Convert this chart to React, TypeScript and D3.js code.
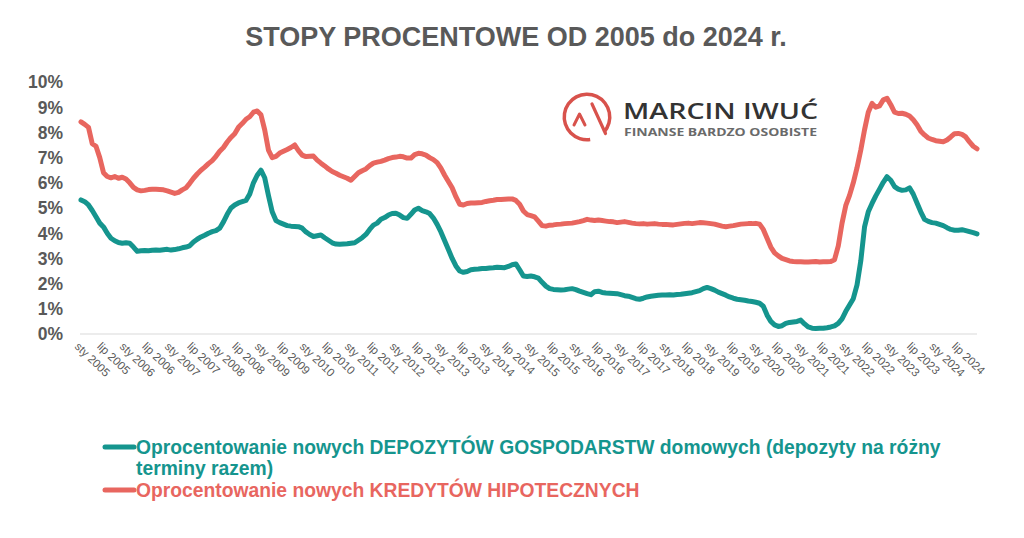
import React from "react";
import * as d3 from "d3";

const MONTHS = ["sty", "lut", "mar", "kwi", "maj", "cze", "lip", "sie", "wrz", "paź", "lis", "gru"];
const YEARS = [2005, 2006, 2007, 2008, 2009, 2010, 2011, 2012, 2013, 2014, 2015, 2016, 2017, 2018, 2019, 2020, 2021, 2022, 2023, 2024];
const Y_TICKS = [0, 1, 2, 3, 4, 5, 6, 7, 8, 9, 10];

// Oprocentowanie nowych KREDYTÓW HIPOTECZNYCH (%), monthly 2005-2024
const KREDYTY = [
  8.42, 8.32, 8.2, 7.55, 7.45, 7.0, 6.4, 6.25, 6.2, 6.25, 6.18, 6.22,
  6.15, 6.0, 5.82, 5.72, 5.68, 5.7, 5.73, 5.74, 5.74, 5.73, 5.72, 5.68,
  5.63, 5.58, 5.62, 5.72, 5.8, 5.98, 6.18, 6.35, 6.5, 6.62, 6.76, 6.88,
  7.05, 7.25, 7.4, 7.62, 7.8, 7.95, 8.2, 8.35, 8.52, 8.62, 8.8, 8.85,
  8.7, 8.1, 7.3, 7.0, 7.05, 7.18, 7.25, 7.32, 7.4, 7.5, 7.28, 7.1,
  7.04, 7.05, 7.06, 6.9, 6.78, 6.67, 6.55, 6.45, 6.38, 6.3, 6.24, 6.18,
  6.1, 6.25, 6.4, 6.48, 6.55, 6.68, 6.78, 6.82, 6.85, 6.9, 6.96, 7.0,
  7.02, 7.05, 7.03, 6.98, 6.98, 7.12, 7.17, 7.15, 7.1, 7.0, 6.92, 6.8,
  6.58, 6.3, 6.05, 5.8, 5.45, 5.15, 5.12, 5.18, 5.2, 5.2, 5.21, 5.22,
  5.26, 5.29, 5.31, 5.34, 5.34, 5.35, 5.36, 5.36, 5.3, 5.15, 4.88, 4.74,
  4.7, 4.65, 4.48, 4.3, 4.28, 4.32, 4.33, 4.35, 4.36, 4.38, 4.39, 4.4,
  4.43, 4.46, 4.5, 4.55, 4.52, 4.5, 4.52, 4.5, 4.48, 4.46, 4.45, 4.42,
  4.44, 4.46, 4.43, 4.4, 4.38, 4.37, 4.38, 4.36, 4.37, 4.38, 4.36, 4.35,
  4.35, 4.34, 4.33, 4.35, 4.37, 4.39, 4.4, 4.38, 4.4, 4.42, 4.41, 4.4,
  4.38, 4.36, 4.32, 4.28, 4.26, 4.28, 4.3, 4.33, 4.36, 4.37, 4.38, 4.38,
  4.39, 4.36, 4.15, 3.8, 3.45, 3.22, 3.1, 3.0, 2.95, 2.9, 2.88, 2.87,
  2.87, 2.86, 2.86, 2.87, 2.88, 2.86, 2.87, 2.87, 2.88, 2.95, 3.5, 4.4,
  5.1, 5.5, 6.0, 6.6, 7.3, 8.1, 8.8, 9.15, 9.0, 9.05, 9.29, 9.35,
  9.1, 8.8, 8.75, 8.76, 8.72, 8.65, 8.5, 8.3, 8.05, 7.9, 7.78, 7.72,
  7.67, 7.65, 7.63, 7.7, 7.82, 7.95, 7.96, 7.92, 7.82, 7.62, 7.45, 7.35,
];

// Oprocentowanie nowych DEPOZYTÓW GOSPODARSTW domowych (%), monthly 2005-2024
const DEPOZYTY = [
  5.32, 5.25, 5.12, 4.9, 4.65, 4.4, 4.25, 4.0, 3.8, 3.7, 3.63, 3.6,
  3.62, 3.6, 3.45, 3.28, 3.3, 3.31, 3.3, 3.32, 3.33, 3.32, 3.34, 3.36,
  3.33, 3.35, 3.38, 3.42, 3.45, 3.5, 3.65, 3.76, 3.85, 3.92, 4.0, 4.06,
  4.1, 4.2, 4.45, 4.75, 5.0, 5.12, 5.2, 5.25, 5.3, 5.55, 6.0, 6.3,
  6.5, 6.2, 5.5, 4.85, 4.5, 4.42, 4.36, 4.3, 4.28, 4.27, 4.26, 4.2,
  4.05, 3.95, 3.87, 3.9, 3.93, 3.82, 3.72, 3.62, 3.57, 3.56, 3.57, 3.58,
  3.6, 3.62, 3.72, 3.82, 3.95, 4.15, 4.32, 4.4, 4.55, 4.62, 4.72, 4.78,
  4.79, 4.72, 4.62, 4.59, 4.75, 4.92, 4.99, 4.9, 4.85, 4.78, 4.6, 4.35,
  4.05, 3.7, 3.35, 3.0, 2.7, 2.5, 2.45, 2.48, 2.55, 2.57, 2.58, 2.6,
  2.6, 2.62, 2.63, 2.65, 2.64, 2.63, 2.68, 2.75, 2.78, 2.55, 2.3, 2.28,
  2.3, 2.27, 2.22, 2.05, 1.9, 1.8, 1.77, 1.76, 1.75, 1.76, 1.78, 1.8,
  1.76, 1.7, 1.65, 1.6, 1.56, 1.68, 1.7, 1.65, 1.63, 1.62, 1.61, 1.6,
  1.56, 1.52, 1.5, 1.45, 1.4, 1.38, 1.42, 1.47, 1.5, 1.52, 1.54, 1.55,
  1.55, 1.56, 1.55, 1.57, 1.58, 1.6, 1.62, 1.64, 1.68, 1.72, 1.8, 1.85,
  1.8, 1.74, 1.66, 1.6, 1.54, 1.47, 1.42, 1.38, 1.36, 1.34, 1.31, 1.29,
  1.26, 1.22, 1.1, 0.75, 0.5, 0.36, 0.3, 0.33, 0.42, 0.46, 0.48, 0.5,
  0.55, 0.4, 0.28, 0.23, 0.22, 0.23, 0.23, 0.25, 0.28, 0.32, 0.42, 0.6,
  0.9, 1.15, 1.4, 1.95, 2.9, 4.25, 4.85, 5.18, 5.48, 5.75, 6.02, 6.24,
  6.1, 5.85, 5.75, 5.7, 5.72, 5.8, 5.55, 5.2, 4.85, 4.55, 4.47, 4.42,
  4.4, 4.35, 4.3, 4.22, 4.15, 4.12, 4.12, 4.14, 4.1, 4.06, 4.02, 3.97,
];

const CATEGORIES = YEARS.flatMap((y) => MONTHS.map((m) => `${m} ${y}`));
const TICK_LABELS = CATEGORIES.filter((c) => c.startsWith("sty") || c.startsWith("lip"));

const TITLE = "STOPY PROCENTOWE OD 2005 do 2024 r.";
const LEGEND_DEP_1 = "Oprocentowanie nowych DEPOZYTÓW GOSPODARSTW domowych (depozyty na różny";
const LEGEND_DEP_2 = "terminy razem)";
const LEGEND_KRED = "Oprocentowanie nowych KREDYTÓW HIPOTECZNYCH";

const TEAL = "#15958e";
const RED = "#e8665f";
const GRAY = "#595959";
const FONT = "'Liberation Sans', Arial, sans-serif";

export default function App() {
  const W = 1024;
  const H = 538;
  const x = d3.scalePoint<string>().domain(CATEGORIES).range([81, 977]);
  const y = d3.scaleLinear().domain([0, 10]).range([334, 82]);

  const line = d3
    .line<number>()
    .x((_, i) => x(CATEGORIES[i]) as number)
    .y((d) => y(d));

  const logoArc = d3.arc()({
    innerRadius: 21,
    outerRadius: 24.5,
    startAngle: (172 * Math.PI) / 180,
    endAngle: ((132 + 360) * Math.PI) / 180,
  } as any) as string;

  return (
    <svg
      width={W}
      height={H}
      style={{ position: "absolute", left: 0, top: 0, display: "block", background: "#fff" }}
      fontFamily={FONT}
    >
      <rect x={0} y={0} width={W} height={H} fill="#fff" />
      <text x={516} y={46} textAnchor="middle" fontSize={27} fontWeight="bold" fill={GRAY}>
        {TITLE}
      </text>

      {/* y axis labels */}
      {Y_TICKS.map((t) => (
        <text
          key={t}
          x={63}
          y={y(t)}
          dy="0.36em"
          textAnchor="end"
          fontSize={17.5}
          fontWeight="bold"
          fill={GRAY}
        >
          {`${t}%`}
        </text>
      ))}

      {/* x axis line */}
      <line x1={80} x2={977} y1={y(0)} y2={y(0)} stroke="#d9d9d9" strokeWidth={1} />

      {/* x tick labels */}
      {TICK_LABELS.map((c) => (
        <text
          key={c}
          transform={`translate(${(x(c) as number) - 1},${341}) rotate(44)`}
          dy="0.75em"
          fontSize={11.5}
          fill={GRAY}
        >
          {c}
        </text>
      ))}

      {/* logo */}
      <g>
        <path d={logoArc} transform="translate(587,117)" fill="#d8524c" />
        <path d="M574,125 L579.5,114 L585,125" fill="none" stroke="#d8524c" strokeWidth={3} strokeLinecap="round" strokeLinejoin="round" />
        <line x1={592} y1={104} x2={605.5} y2={133.5} stroke="#d8524c" strokeWidth={3.2} strokeLinecap="round" />
        <text x={623} y={119} fontSize={21} fontWeight={600} fill="#333" fontFamily="'Open Sans', sans-serif" textLength={195} lengthAdjust="spacingAndGlyphs">
          MARCIN IWUĆ
        </text>
        <text x={624} y={135.5} fontSize={10} fontWeight="bold" fill="#6a6a6a" fontFamily="'Open Sans', sans-serif" textLength={193} lengthAdjust="spacingAndGlyphs">
          FINANSE BARDZO OSOBISTE
        </text>
      </g>

      {/* series */}
      <path d={line(KREDYTY) as string} fill="none" stroke={RED} strokeWidth={5} strokeLinejoin="round" strokeLinecap="round" />
      <path d={line(DEPOZYTY) as string} fill="none" stroke={TEAL} strokeWidth={5} strokeLinejoin="round" strokeLinecap="round" />

      {/* legend */}
      <line x1={105} x2={134} y1={447} y2={447} stroke={TEAL} strokeWidth={5} strokeLinecap="round" />
      <text x={136} y={454} fontSize={19.3} fontWeight="bold" fill={TEAL}>
        {LEGEND_DEP_1}
      </text>
      <text x={136} y={475} fontSize={19.3} fontWeight="bold" fill={TEAL}>
        {LEGEND_DEP_2}
      </text>
      <line x1={105} x2={134} y1={490} y2={490} stroke={RED} strokeWidth={5} strokeLinecap="round" />
      <text x={136} y={497} fontSize={19.3} fontWeight="bold" fill={RED}>
        {LEGEND_KRED}
      </text>
    </svg>
  );
}
